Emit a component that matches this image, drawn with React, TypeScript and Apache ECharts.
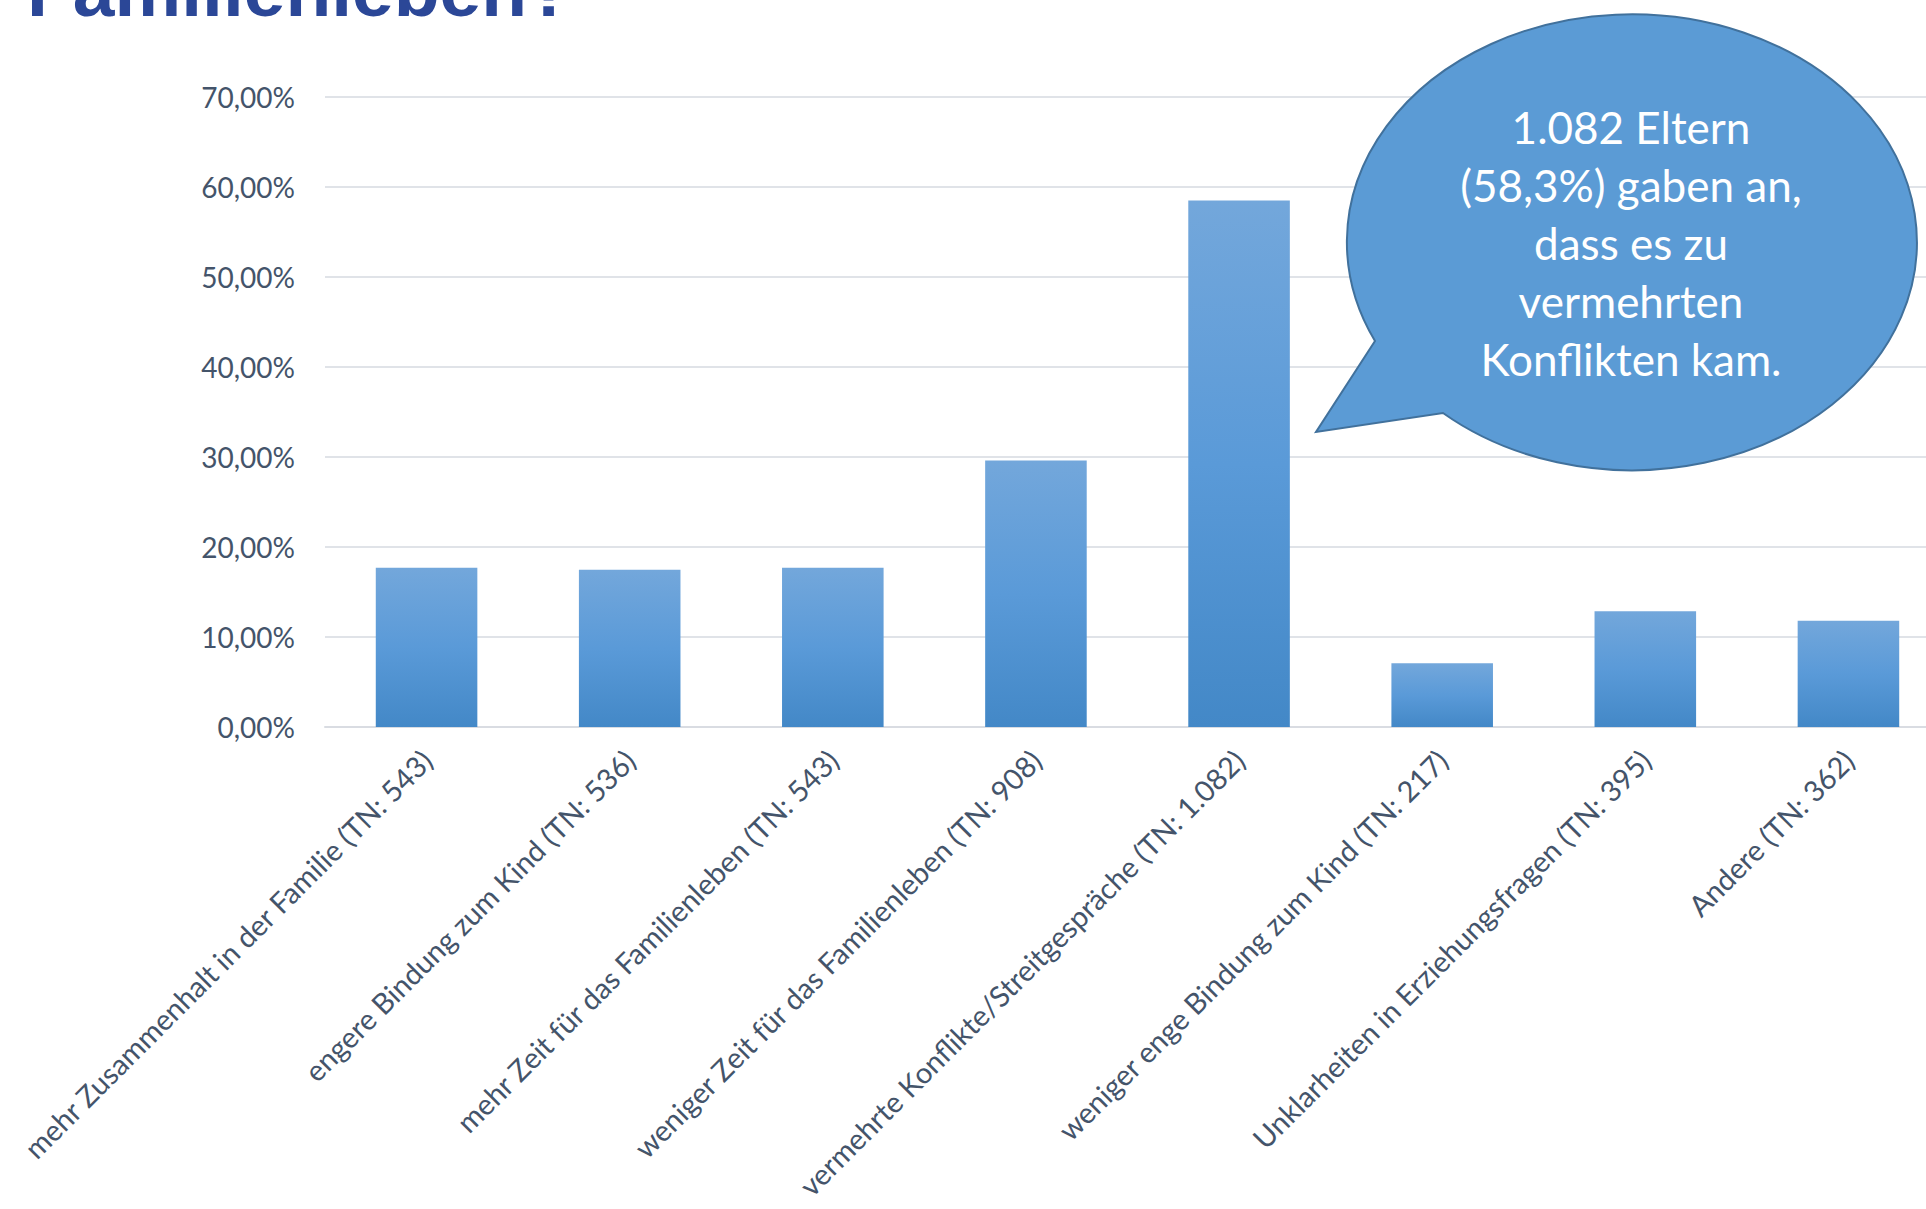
import React, { useEffect, useRef } from "react";
import * as echarts from "echarts";

const categories: string[] = [
  "mehr Zusammenhalt in der Familie (TN: 543)",
  "engere Bindung zum Kind (TN: 536)",
  "mehr Zeit für das Familienleben (TN: 543)",
  "weniger Zeit für das Familienleben (TN: 908)",
  "vermehrte Konflikte/Streitgespräche (TN: 1.082)",
  "weniger enge Bindung zum Kind (TN: 217)",
  "Unklarheiten in Erziehungsfragen (TN: 395)",
  "Andere (TN: 362)",
];
const values: number[] = [17.7, 17.47, 17.7, 29.6, 58.5, 7.07, 12.87, 11.8];
const yTicks = { min: 0, max: 70, interval: 10 };
const titleText = "Familienleben?";
const calloutLines: string[] = [
  "1.082 Eltern",
  "(58,3%) gaben an,",
  "dass es zu",
  "vermehrten",
  "Konflikten kam.",
];

// Callout shape: ellipse with tail (absolute pixel path)
const calloutPath =
  "M 1375 341 A 285 228 0 1 1 1443 413 L 1316 432 Z";
echarts.graphic.registerShape(
  "callout",
  echarts.graphic.extendPath(calloutPath, {})
);

const FONT = "Lato, 'Open Sans', sans-serif";
const LABEL = "#44546a";

export default function App() {
  const ref = useRef<HTMLDivElement>(null);
  useEffect(() => {
    document.body.style.margin = "0";
    document.body.style.overflow = "hidden";
    document.documentElement.style.overflow = "hidden";
    if (!ref.current) return;
    const chart = echarts.init(ref.current, null, { renderer: "svg" });
    chart.setOption({
      animation: false,
      backgroundColor: "#ffffff",
      grid: {
        left: 325,
        top: 97,
        bottom: 482,
        right: 0,
        containLabel: false,
        outerBoundsMode: "none",
      },
      xAxis: {
        type: "category",
        data: categories,
        axisLine: { show: true, lineStyle: { color: "#d9dce2", width: 2 } },
        axisTick: { show: false },
        axisLabel: {
          interval: 0,
          rotate: 45,
          margin: 28,
          color: LABEL,
          fontFamily: FONT,
          fontSize: 29,
        },
      },
      yAxis: {
        type: "value",
        min: yTicks.min,
        max: yTicks.max,
        interval: yTicks.interval,
        axisLine: { show: false },
        axisTick: { show: false },
        splitLine: { lineStyle: { color: "#e0e3e8", width: 2 } },
        axisLabel: {
          margin: 30,
          color: LABEL,
          fontFamily: FONT,
          fontSize: 28,
          formatter: (v: number) => v.toFixed(2).replace(".", ",") + "%",
        },
      },
      series: [
        {
          type: "bar",
          data: values,
          barCategoryGap: "50%",
          itemStyle: {
            color: new echarts.graphic.LinearGradient(0, 0, 0, 1, [
              { offset: 0, color: "#73a7db" },
              { offset: 0.5, color: "#5a9ad8" },
              { offset: 1, color: "#4388c7" },
            ]),
          },
        },
      ],
      graphic: [
        {
          type: "text",
          x: 27,
          y: -10,
          z: 100,
          style: {
            text: titleText,
            fill: "#2b4797",
            font: "bold 75px 'Liberation Sans', Arial, sans-serif",
            textAlign: "left",
            textVerticalAlign: "middle",
          },
        },
        {
          type: "callout",
          x: 0,
          y: 0,
          z: 100,
          style: { fill: "#5b9bd5", stroke: "#41719c", lineWidth: 2 },
        },
        {
          type: "text",
          x: 1631,
          y: 243,
          z: 101,
          style: {
            text: calloutLines.join("\n"),
            fill: "#ffffff",
            font: "44px " + FONT,
            lineHeight: 58,
            textAlign: "center",
            textVerticalAlign: "middle",
          },
        },
      ],
    });
    return () => chart.dispose();
  }, []);
  return (
    <div style={{ width: 1926, height: 1209, overflow: "hidden" }}>
      <div ref={ref} style={{ width: 1950, height: 1209 }} />
    </div>
  );
}
